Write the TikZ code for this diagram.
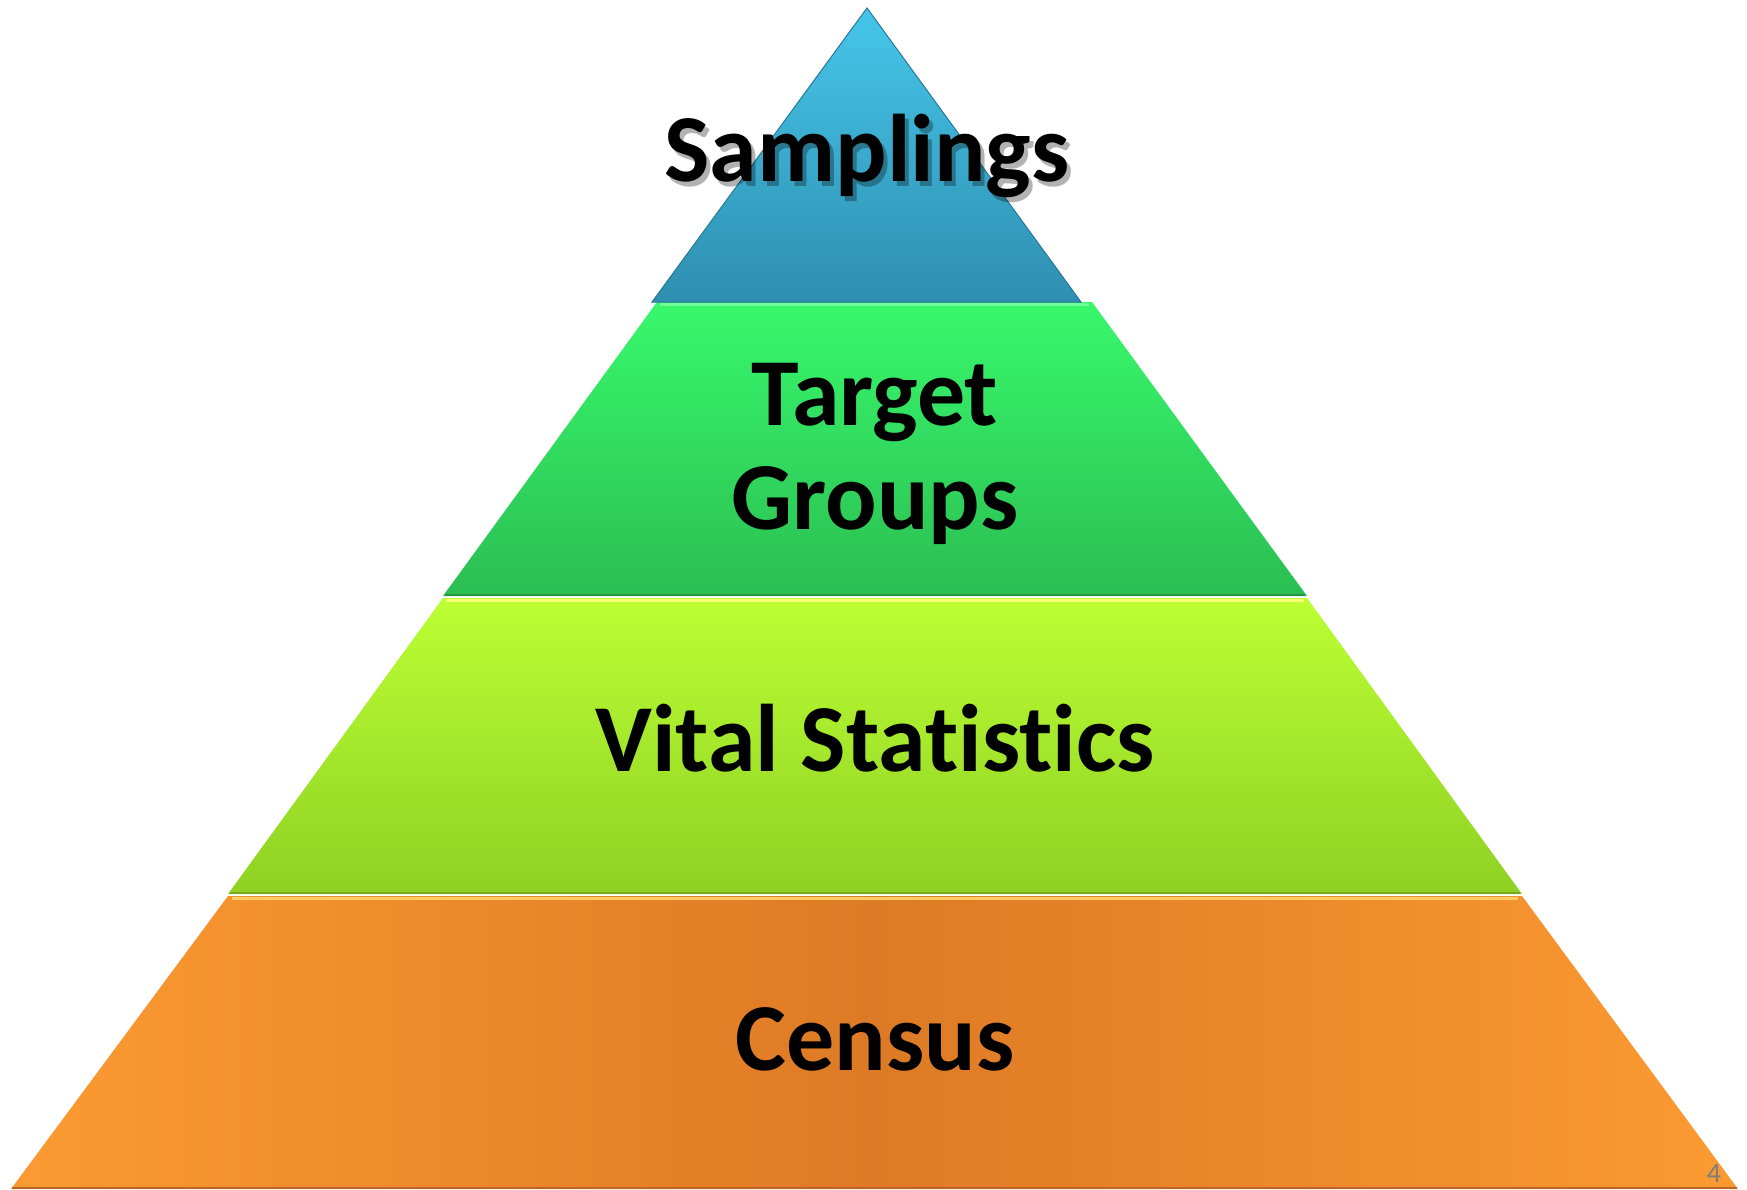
\documentclass[tikz,border=0pt]{standalone}
\usepackage{fontspec}
\setmainfont[Ligatures=NoCommon]{Carlito}
\begin{document}
\begin{tikzpicture}[x=1pt,y=-1pt,
  lbl/.style={font=\bfseries\fontsize{96}{104}\selectfont, text=black, align=center, inner sep=0pt},
  shd/.style={font=\bfseries\fontsize{96}{104}\selectfont, text=black, opacity=0.3, align=center, inner sep=0pt},
  pagenum/.style={font=\fontsize{28}{30}\selectfont, text={rgb,255:red,125;green,125;blue,125}, inner sep=0pt}]
\useasboundingbox (0,0) rectangle (1747,1190);
\fill[white] (0,0) rectangle (1747,1190);
% tier 4 (orange)
\shade[left color={rgb,255:red,252;green,154;blue,50}, right color={rgb,255:red,252;green,154;blue,50}, middle color={rgb,255:red,221;green,122;blue,37}]
  (228,896) -- (1522,896) -- (1738,1189) -- (11,1189) -- cycle;
\draw[line width=3pt, color={rgb,255:red,255;green,205;blue,100}] (232,898) -- (1518,898);
\draw[line width=2pt, color={rgb,255:red,190;green,100;blue,40}] (12,1188) -- (1737,1188);
% tier 3 (lime)
\shade[top color={rgb,255:red,188;green,255;blue,51}, bottom color={rgb,255:red,143;green,208;blue,36}]
  (443,598) -- (1307,598) -- (1522,894) -- (228,894) -- cycle;
\draw[line width=3pt, color={rgb,255:red,250;green,255;blue,120}] (446,600) -- (1304,600);
\draw[line width=2pt, color={rgb,255:red,120;green,170;blue,30}] (230,893) -- (1520,893);
% tier 2 (green)
\shade[top color={rgb,255:red,56;green,248;blue,108}, bottom color={rgb,255:red,43;green,190;blue,82}]
  (657,302) -- (1092,302) -- (1307,596) -- (443,596) -- cycle;
\draw[line width=3pt, color={rgb,255:red,110;green,255;blue,150}] (660,304) -- (1089,304);
\draw[line width=2pt, color={rgb,255:red,40;green,150;blue,70}] (445,595) -- (1305,595);
% tier 1 (blue)
\shade[top color={rgb,255:red,70;green,198;blue,234}, bottom color={rgb,255:red,46;green,143;blue,176}]
  (867,8) -- (1081,302) -- (652,302) -- cycle;
\draw[line width=1pt, color={rgb,255:red,40;green,120;blue,150}] (867,8) -- (1081,302) -- (652,302) -- cycle;
% shadow for the top label
\node[shd, anchor=base] (sh) at (871,187) {Samplings};
% labels
\node[lbl, anchor=base] (s) at (867,182) {Samplings};
\node[lbl, anchor=base] (t) at (875,529) {Target\\Groups};
\node[lbl, anchor=base] (v) at (875,771) {Vital Statistics};
\node[lbl, anchor=base] (c) at (875,1070) {Census};
\node[pagenum] (n) at (1714,1173) {4};
\end{tikzpicture}
\end{document}
